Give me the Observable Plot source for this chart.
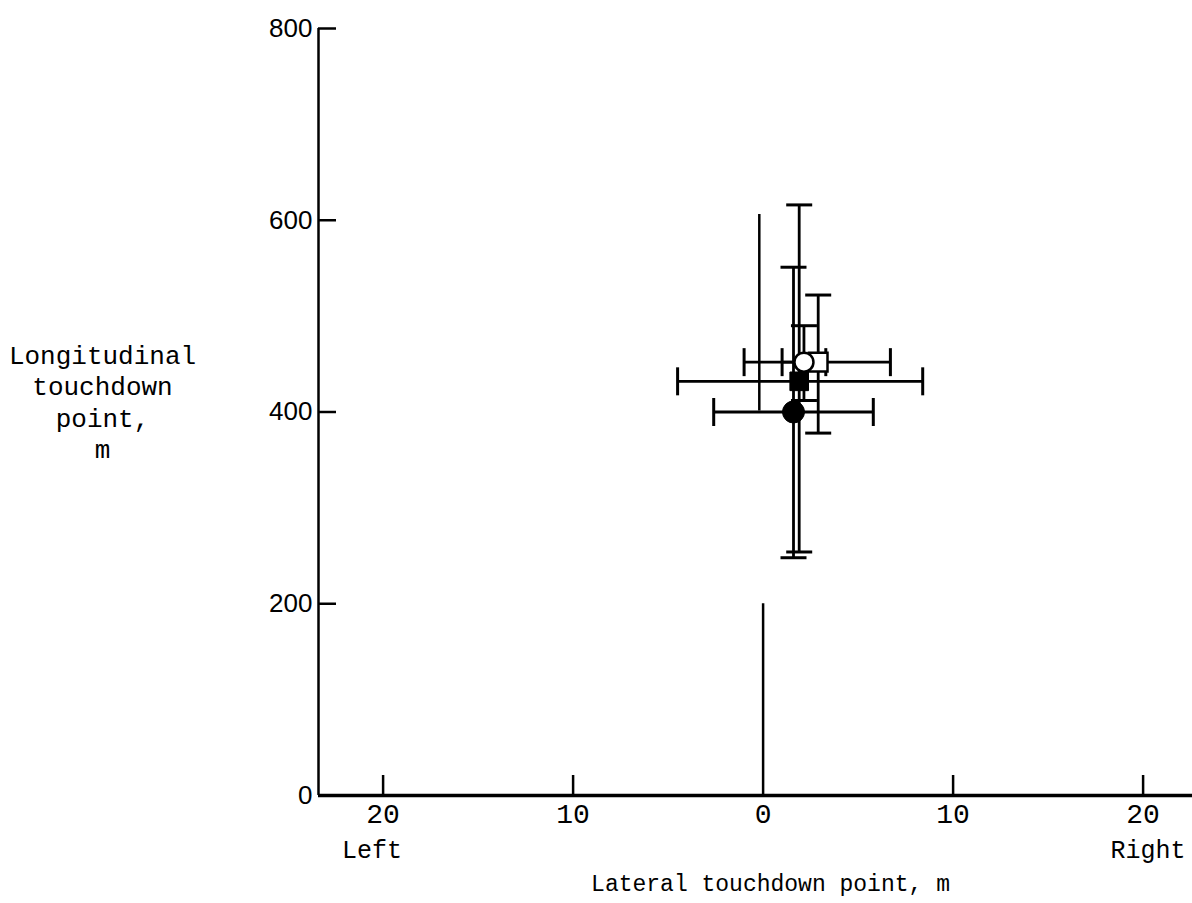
<!DOCTYPE html>
<html><head><meta charset="utf-8">
<script src="https://cdn.jsdelivr.net/npm/d3@7"></script>
<script src="https://cdn.jsdelivr.net/npm/@observablehq/plot@0.6"></script>
<style>body{margin:0;background:#fff}</style>
</head><body><div id="chart"></div>
<script>
// ---- data ----
const series = ["Filled circle", "Filled square", "Open circle", "Open square"];
const lateral = [1.6, 1.9, 2.15, 2.9];          // m
const longitudinal = [400, 432, 452, 452];       // m
const lateralLow = [-2.6, -4.5, 1.0, -1.0];
const lateralHigh = [5.8, 8.4, 3.3, 6.7];
const longLow = [248, 254, 412, 378];
const longHigh = [551, 616, 490, 522];
const refLineX = [0, -0.2];
const refLineY1 = [0, 401];
const refLineY2 = [200, 606];
const xTicks = [-20, -10, 0, 10, 20];
const xTickMarks = [-20, -10, 10, 20];
const yTicks = [0, 200, 400, 600, 800];
const sideLabels = ["Left", "Right"];
const sideLabelX = [-20, 20];
const xTitle = "Lateral touchdown point, m";
const yTitle = "Longitudinal\ntouchdown\npoint,\nm";

const rows = series.map((s, i) => ({s, x: lateral[i], y: longitudinal[i],
  x1: lateralLow[i], x2: lateralHigh[i], y1: longLow[i], y2: longHigh[i]}));
const refs = refLineX.map((x, i) => ({x, y1: refLineY1[i], y2: refLineY2[i]}));
const sides = sideLabels.map((t, i) => ({t, x: sideLabelX[i]}));

const hCap = {draw(ctx, size) { const r = Math.sqrt(size / Math.PI); ctx.moveTo(-r, 0); ctx.lineTo(r, 0); }};
const vCap = {draw(ctx, size) { const r = Math.sqrt(size / Math.PI); ctx.moveTo(0, -r); ctx.lineTo(0, r); }};
const bySeries = name => rows.filter(d => d.s === name);

const xDomain = [-23.4, 22.6];
const mono = "'Liberation Mono', 'DejaVu Sans Mono', monospace";

const chart = Plot.plot({
  width: 1192, height: 903,
  marginLeft: 318, marginRight: 0, marginTop: 28, marginBottom: 108,
  x: {domain: xDomain, label: null},
  y: {domain: [0, 800], label: null},
  style: {fontFamily: mono, background: "white", color: "black"},
  marks: [
    // axis lines
    Plot.ruleX([xDomain[0]], {y1: 0, y2: 800, strokeWidth: 2.5}),
    Plot.ruleY([0], {x1: xDomain[0], x2: xDomain[1], strokeWidth: 3.5}),
    // inward ticks
    Plot.axisY(yTicks, {tickSize: -18, tickFormat: () => "", strokeWidth: 2.5}),
    Plot.axisX(xTickMarks, {tickSize: -20, tickFormat: () => "", strokeWidth: 2.5}),
    // tick labels
    Plot.axisY(yTicks, {tickSize: 0, tickPadding: 6, fontFamily: "'Liberation Sans', Arial, sans-serif", fontSize: 26}),
    Plot.axisX(xTicks, {tickSize: 0, tickPadding: 8, fontSize: 28, tickFormat: d => String(Math.abs(d))}),
    Plot.text(sides.filter(d => d.x < 0), {x: "x", text: "t", frameAnchor: "bottom", dy: 62, dx: -11, fontSize: 25}),
    Plot.text(sides.filter(d => d.x > 0), {x: "x", text: "t", frameAnchor: "bottom", dy: 62, dx: 5, fontSize: 25}),
    Plot.text([xTitle], {frameAnchor: "bottom", dy: 95, dx: 15, fontSize: 23}),
    Plot.text([yTitle], {frameAnchor: "left", dx: -216, dy: -11, fontSize: 26, lineHeight: 1.2, textAnchor: "middle"}),
    // reference lines
    Plot.ruleX(refs, {x: "x", y1: "y1", y2: "y2", strokeWidth: 2.5}),
    // error bars
    Plot.ruleX(rows, {x: "x", y1: "y1", y2: "y2", strokeWidth: 2.8}),
    Plot.ruleY(rows, {y: "y", x1: "x1", x2: "x2", strokeWidth: 2.8}),
    Plot.dot(rows, {x: "x", y: "y1", symbol: hCap, r: 13, stroke: "black", strokeWidth: 3, fill: "none"}),
    Plot.dot(rows, {x: "x", y: "y2", symbol: hCap, r: 13, stroke: "black", strokeWidth: 3, fill: "none"}),
    Plot.dot(rows, {x: "x1", y: "y", symbol: vCap, r: 14, stroke: "black", strokeWidth: 3, fill: "none"}),
    Plot.dot(rows, {x: "x2", y: "y", symbol: vCap, r: 14, stroke: "black", strokeWidth: 3, fill: "none"}),
    // markers
    Plot.dot(bySeries("Open square"), {x: "x", y: "y", symbol: "square", r: 10.5, fill: "white", stroke: "black", strokeWidth: 2.5}),
    Plot.dot(bySeries("Open circle"), {x: "x", y: "y", symbol: "circle", r: 9.5, fill: "white", stroke: "black", strokeWidth: 2.5}),
    Plot.dot(bySeries("Filled square"), {x: "x", y: "y", symbol: "square", r: 10.5, fill: "black", stroke: "black", strokeWidth: 1}),
    Plot.dot(bySeries("Filled circle"), {x: "x", y: "y", symbol: "circle", r: 11, fill: "black", stroke: "black", strokeWidth: 1})
  ]
});
document.getElementById("chart").append(chart);
</script>
</body></html>
